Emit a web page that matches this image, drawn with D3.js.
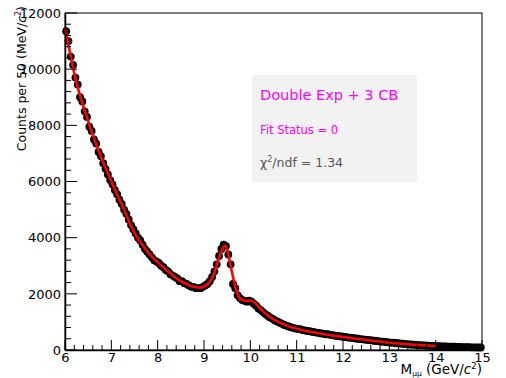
<!DOCTYPE html>
<html>
<head>
<meta charset="utf-8">
<script src="https://cdn.jsdelivr.net/npm/d3@7"></script>
<style>
  body { margin: 0; background: #fff; }
  svg { font-family: "DejaVu Sans", "Liberation Sans", Arial, sans-serif; }
</style>
</head>
<body>
<svg id="chart" width="506" height="378"></svg>
<script>
// histogram: 50 MeV bins from 6 to 15 GeV
const binLow = 6.0;
const binWidth = 0.05;
const counts = [
  11350, 11000, 10450, 10150, 9700, 9450, 9000, 8850, 8500, 8300,
  7950, 7800, 7500, 7350, 7050, 6900, 6650, 6450, 6250, 6050,
  5900, 5700, 5550, 5350, 5200, 5000, 4850, 4650, 4450, 4300,
  4150, 4000, 3900, 3750, 3600, 3500, 3400, 3300, 3200, 3150,
  3100, 3000, 2950, 2850, 2800, 2700, 2650, 2600, 2550, 2450,
  2450, 2380, 2350, 2300, 2250, 2250, 2200, 2200, 2200, 2250,
  2300, 2350, 2450, 2600, 2800, 3050, 3350, 3600, 3750, 3700,
  3400, 3050, 2350, 2200, 1950, 1850, 1780, 1750, 1720, 1760,
  1720, 1650, 1580, 1480, 1420, 1350, 1280, 1220, 1160, 1120,
  1060, 1020, 980, 940, 900, 870, 840, 810, 790, 770,
  750, 740, 710, 700, 680, 670, 650, 640, 620, 610,
  590, 580, 560, 560, 540, 530, 510, 500, 490, 480,
  470, 460, 440, 440, 420, 410, 400, 390, 380, 370,
  360, 350, 340, 330, 320, 310, 300, 295, 285, 275,
  265, 260, 250, 240, 235, 225, 215, 210, 200, 195,
  190, 180, 175, 170, 165, 160, 155, 150, 145, 140,
  140, 135, 130, 130, 125, 120, 120, 115, 115, 110,
  110, 105, 105, 100, 100, 95, 95, 95, 90, 90
];

// fit curve (Double Exp + 3 CB)
const fitMass = [6.0, 6.1, 6.2, 6.3, 6.4, 6.5, 6.6, 6.7, 6.8, 6.9,
  7.0, 7.1, 7.2, 7.3, 7.4, 7.5, 7.6, 7.7, 7.8, 7.9,
  8.0, 8.1, 8.2, 8.3, 8.4, 8.5, 8.6, 8.7, 8.8, 8.9,
  9.0, 9.1, 9.2, 9.3, 9.4, 9.45, 9.5, 9.6, 9.7, 9.8, 9.9,
  10.0, 10.1, 10.2, 10.3, 10.4, 10.5, 10.6, 10.7, 10.8, 10.9,
  11.0, 11.2, 11.4, 11.6, 11.8, 12.0, 12.2, 12.4, 12.6, 12.8,
  13.0, 13.2, 13.4, 13.6, 13.8, 14.0];
const fitCounts = [11450, 10650, 9850, 9200, 8650, 8150, 7650, 7200, 6780, 6380,
  6000, 5620, 5270, 4900, 4500, 4170, 3900, 3680, 3460, 3280,
  3120, 2970, 2830, 2690, 2560, 2450, 2370, 2290, 2240, 2220,
  2260, 2380, 2650, 3150, 3620, 3720, 3550, 2800, 2100, 1800, 1750,
  1760, 1680, 1500, 1340, 1200, 1090, 1000, 930, 860, 800,
  760, 680, 620, 560, 510, 460, 420, 380, 340, 300,
  260, 230, 200, 180, 160, 145];

const xTicks = [6, 7, 8, 9, 10, 11, 12, 13, 14, 15];
const yTicks = [0, 2000, 4000, 6000, 8000, 10000, 12000];

const svg = d3.select("#chart");
const margin = {left: 65, right: 24, top: 13, bottom: 28};
const W = 506, H = 378;

const x = d3.scaleLinear().domain([6, 15]).range([margin.left, W - margin.right]);
const y = d3.scaleLinear().domain([0, 12000]).range([H - margin.bottom, margin.top]);

// frame
svg.append("rect")
    .attr("x", x(6)).attr("y", y(12000))
    .attr("width", x(15) - x(6)).attr("height", y(0) - y(12000))
    .attr("fill", "none").attr("stroke", "#000").attr("stroke-width", 1);

// stats box
const box = svg.append("g");
box.append("rect")
    .attr("x", 252).attr("y", 75).attr("width", 165).attr("height", 107)
    .attr("fill", "#f2f2f2");
box.append("text").attr("x", 260).attr("y", 100)
    .attr("font-size", 14.5).attr("fill", "#ff00ff").text("Double Exp + 3 CB");
box.append("text").attr("x", 260).attr("y", 134)
    .attr("font-size", 11.5).attr("fill", "#ff00ff").text("Fit Status = 0");
const chi = box.append("text").attr("x", 260).attr("y", 167)
    .attr("font-size", 12.5).attr("fill", "#555");
chi.append("tspan").text("χ");
chi.append("tspan").attr("dy", -5).attr("font-size", 8).text("2");
chi.append("tspan").attr("dy", 5).text("/ndf = 1.34");

// data points with error bars
const pts = counts.map((c, i) => ({m: binLow + binWidth * (i + 0.5), c: c}));
const gData = svg.append("g");
gData.selectAll("line")
    .data(pts).join("line")
    .attr("x1", d => x(d.m)).attr("x2", d => x(d.m))
    .attr("y1", d => y(d.c + Math.sqrt(d.c))).attr("y2", d => y(d.c - Math.sqrt(d.c)))
    .attr("stroke", "#000").attr("stroke-width", 1);
gData.selectAll("circle")
    .data(pts).join("circle")
    .attr("cx", d => x(d.m)).attr("cy", d => y(d.c))
    .attr("r", 3.9).attr("fill", "#000");

// fit line
const fit = fitMass.map((m, i) => [m, fitCounts[i]]);
svg.append("path")
    .datum(fit)
    .attr("fill", "none").attr("stroke", "#ff0000").attr("stroke-width", 2.6)
    .attr("d", d3.line().x(d => x(d[0])).y(d => y(d[1])).curve(d3.curveMonotoneX));

// axes (ROOT style: ticks pointing inward)
const tickFont = "DejaVu Sans, Liberation Sans, Arial, sans-serif";
const xAxis = svg.append("g").attr("transform", `translate(0,${y(0)})`)
    .call(d3.axisBottom(x).tickValues(xTicks).tickFormat(d3.format("d")).tickSize(0).tickPadding(3));
xAxis.select(".domain").attr("stroke-width", 1.5);
xAxis.selectAll("text").attr("font-size", 13).attr("font-family", tickFont).attr("fill", "#000");
const xMinor = d3.range(6, 15.0001, 0.2);
svg.append("g").selectAll("line").data(xMinor).join("line")
    .attr("x1", d => x(d)).attr("x2", d => x(d))
    .attr("y1", y(0))
    .attr("y2", d => y(0) - (Math.abs(d - Math.round(d)) < 1e-6 ? 10 : 5))
    .attr("stroke", "#000");

const yAxis = svg.append("g").attr("transform", `translate(${x(6)},0)`)
    .call(d3.axisLeft(y).tickValues(yTicks).tickFormat(d3.format("d")).tickSize(0).tickPadding(4));
yAxis.select(".domain").attr("stroke-width", 1.5);
yAxis.selectAll("text").attr("font-size", 13).attr("font-family", tickFont).attr("fill", "#000");
const yMinor = d3.range(0, 12001, 400);
svg.append("g").selectAll("line").data(yMinor).join("line")
    .attr("x1", x(6))
    .attr("x2", d => x(6) + (d % 2000 === 0 ? 12 : 6))
    .attr("y1", d => y(d)).attr("y2", d => y(d))
    .attr("stroke", "#000");

// axis titles
const xt = svg.append("text").attr("x", x(15)).attr("y", 374)
    .attr("text-anchor", "end").attr("font-size", 13.5);
xt.append("tspan").text("M");
xt.append("tspan").attr("dy", 2).attr("font-size", 7.5).text("μμ");
xt.append("tspan").attr("dy", -2).text(" (GeV/");
xt.append("tspan").attr("font-style", "italic").text("c");
xt.append("tspan").attr("dy", -5).attr("font-size", 8.5).text("2");
xt.append("tspan").attr("dy", 5).text(")");

const yt = svg.append("text")
    .attr("transform", "translate(26,6) rotate(-90)")
    .attr("text-anchor", "end").attr("font-size", 12.5);
yt.append("tspan").text("Counts per 50 (MeV/");
yt.append("tspan").attr("font-style", "italic").text("c");
yt.append("tspan").attr("dy", -5).attr("font-size", 8).text("2");
yt.append("tspan").attr("dy", 5).text(")");
</script>
</body>
</html>
